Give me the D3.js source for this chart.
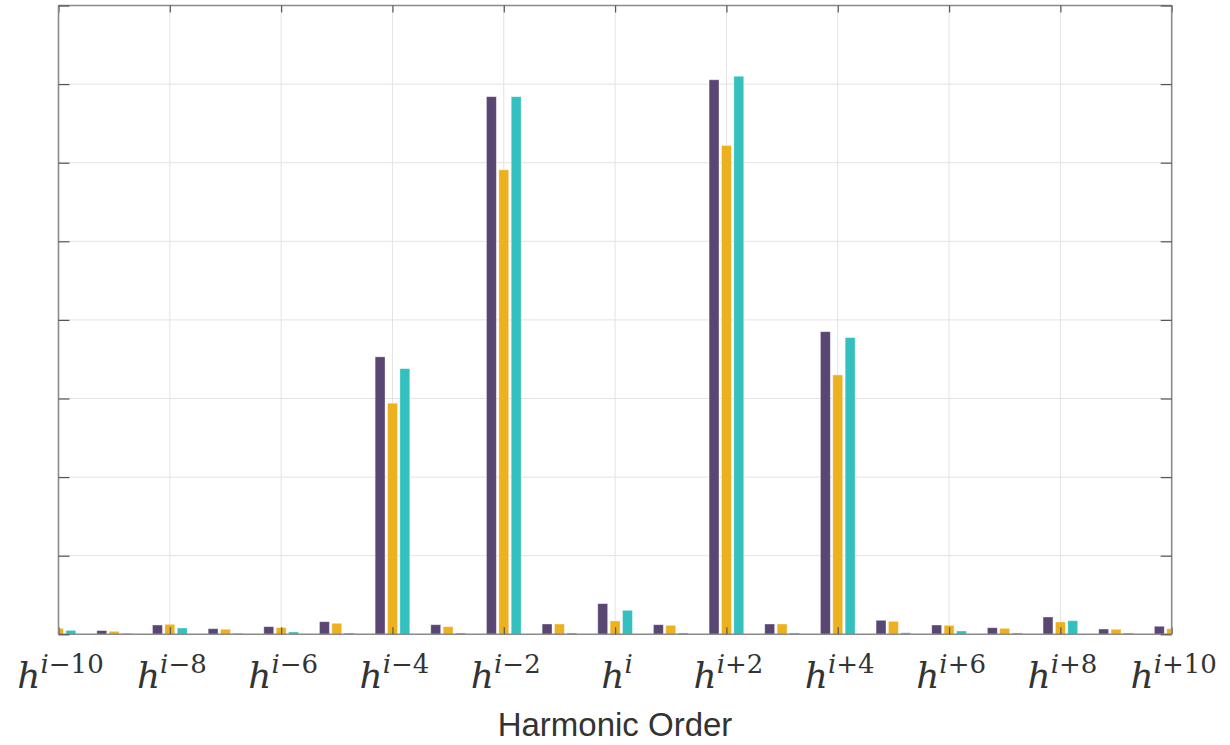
<html>
<head>
<script src="https://d3js.org/d3.v7.min.js"></script>
<style>
  body { margin: 0; background: #fff; }
</style>
</head>
<body>
<svg width="1230" height="745" id="chart"></svg>
<script>
  // harmonic offsets around order i
  var harmonics = [-10, -9, -8, -7, -6, -5, -4, -3, -2, -1, 0, 1, 2, 3, 4, 5, 6, 7, 8, 9, 10];
  var seriesNames = ["s1", "s2", "s3"];
  var purpleVals = [0.06, 0.047, 0.118, 0.071, 0.097, 0.16, 3.53, 0.122, 6.84, 0.131, 0.39, 0.122, 7.055, 0.131, 3.85, 0.178, 0.118, 0.084, 0.22, 0.067, 0.102];
  var orangeVals = [0.076, 0.038, 0.127, 0.064, 0.084, 0.14, 2.94, 0.097, 5.91, 0.131, 0.17, 0.114, 6.22, 0.131, 3.30, 0.165, 0.114, 0.076, 0.157, 0.064, 0.071];
  var tealVals   = [0.05, 0.013, 0.08, 0.013, 0.03, 0.017, 3.38, 0.017, 6.84, 0.017, 0.305, 0.017, 7.10, 0.017, 3.775, 0.02, 0.042, 0.017, 0.173, 0.017, 0.03];
  var xTicks = [-10, -8, -6, -4, -2, 0, 2, 4, 6, 8, 10];
  var xTickSigns = ["−10", "−8", "−6", "−4", "−2", "", "+2", "+4", "+6", "+8", "+10"];
  var yTicks = [0, 1, 2, 3, 4, 5, 6, 7, 8];

  var colors = ["#5a4673", "#edb120", "#33c0be"];
  var seriesVals = [purpleVals, orangeVals, tealVals];

  var svg = d3.select("svg");
  var pLeft = 58.5, pRight = 1171.7, pTop = 5.5, pBottom = 634.3;

  var x = d3.scaleLinear().domain([-10, 10]).range([pLeft, pRight]);
  var y = d3.scaleLinear().domain([0, 8]).range([pBottom, pTop]);
  var step = x(1) - x(0);
  var groupW = step * 0.667;
  var xs = d3.scaleBand().domain(seriesNames).range([-groupW / 2, groupW / 2])
    .paddingInner(0.2).paddingOuter(0.1);

  svg.append("defs").append("clipPath").attr("id", "plotclip")
    .append("rect").attr("x", pLeft).attr("y", pTop)
    .attr("width", pRight - pLeft).attr("height", pBottom - pTop);

  // grid
  var grid = svg.append("g").attr("class", "grid");
  grid.selectAll(".vg").data(xTicks.slice(1, -1)).enter().append("line")
    .attr("x1", d => x(d)).attr("x2", d => x(d))
    .attr("y1", pTop).attr("y2", pBottom)
    .attr("stroke", "#e3e3e3").attr("stroke-width", 1);
  grid.selectAll(".hg").data(yTicks.slice(1, -1)).enter().append("line")
    .attr("x1", pLeft).attr("x2", pRight)
    .attr("y1", d => y(d)).attr("y2", d => y(d))
    .attr("stroke", "#e3e3e3").attr("stroke-width", 1);

  // bars
  var bars = svg.append("g").attr("clip-path", "url(#plotclip)");
  seriesVals.forEach(function(vals, si) {
    bars.selectAll(".b" + si).data(harmonics).enter().append("rect")
      .attr("x", (d, i) => x(d) + xs(seriesNames[si]))
      .attr("width", xs.bandwidth())
      .attr("y", (d, i) => y(vals[i]))
      .attr("height", (d, i) => y(0) - y(vals[i]))
      .attr("fill", colors[si])
      .attr("stroke", "#fff").attr("stroke-opacity", 0.45).attr("stroke-width", 0.8);
  });

  // axes box with inward ticks
  var axisColor = "#8a8a8a";
  var xBottom = d3.axisBottom(x).tickValues(xTicks).tickSize(-7).tickFormat("");
  var xTop = d3.axisTop(x).tickValues(xTicks).tickSize(-7).tickFormat("");
  var yLeft = d3.axisLeft(y).tickValues(yTicks).tickSize(-11).tickFormat("");
  var yRight = d3.axisRight(y).tickValues(yTicks).tickSize(-11).tickFormat("");

  function styleAxis(g) {
    g.select(".domain").attr("stroke", axisColor).attr("stroke-width", 1.6);
    g.selectAll(".tick line").attr("stroke", "#555").attr("stroke-width", 1.2);
  }
  svg.append("g").attr("transform", "translate(0," + pBottom + ")").call(xBottom).call(styleAxis)
    .call(g => g.select(".domain").attr("d", "M" + pLeft + ",0H" + pRight));
  svg.append("g").attr("transform", "translate(0," + pTop + ")").call(xTop).call(styleAxis)
    .call(g => g.select(".domain").attr("d", "M" + pLeft + ",0H" + pRight));
  svg.append("g").attr("transform", "translate(" + pLeft + ",0)").call(yLeft).call(styleAxis)
    .call(g => g.select(".domain").attr("d", "M0," + pTop + "V" + pBottom));
  svg.append("g").attr("transform", "translate(" + pRight + ",0)").call(yRight).call(styleAxis)
    .call(g => g.select(".domain").attr("d", "M0," + pTop + "V" + pBottom));

  // tick labels h^{i±n}
  var labels = svg.append("g").attr("fill", "#333").attr("font-family", "DejaVu Serif");
  xTicks.forEach(function(t, k) {
    var txt = labels.append("text").attr("x", x(t) + 2).attr("y", 688)
      .attr("text-anchor", "middle");
    txt.append("tspan").attr("font-size", 36).attr("font-style", "italic").text("h");
    txt.append("tspan").attr("font-size", 26).attr("font-style", "italic").attr("dy", -15).text("i");
    if (xTickSigns[k]) txt.append("tspan").attr("font-size", 26).text(xTickSigns[k]);
  });

  svg.append("text").attr("x", 615).attr("y", 736)
    .attr("text-anchor", "middle")
    .attr("font-family", "Liberation Sans, Arial, sans-serif")
    .attr("font-size", 33).attr("fill", "#333")
    .text("Harmonic Order");
</script>
</body>
</html>
